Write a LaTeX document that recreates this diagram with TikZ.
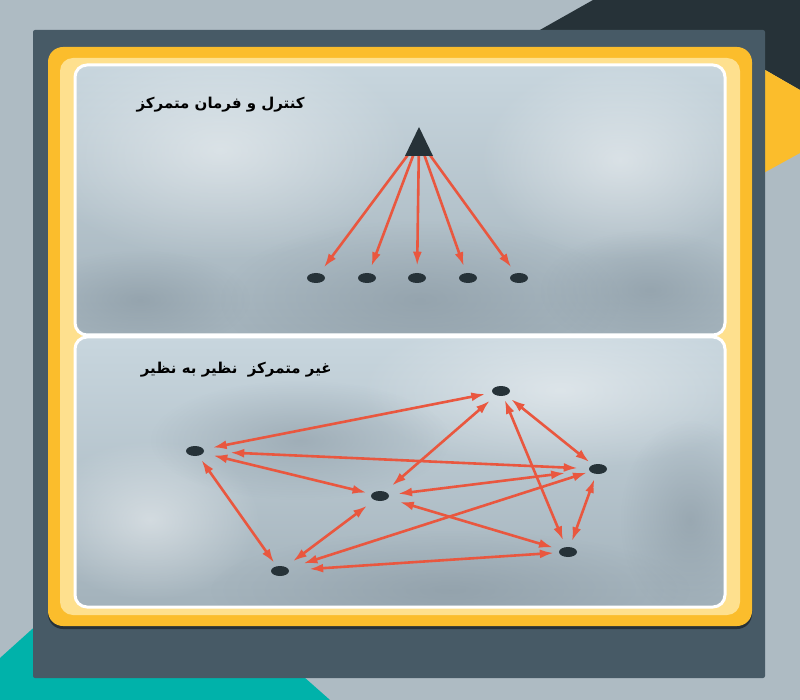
\documentclass[tikz,border=0pt]{standalone}
\usepackage{fontspec}
\newfontfamily\farsi[Script=Arabic]{DejaVu Sans}
\TeXXeTstate=1
\usepackage{tikz}
\usetikzlibrary{arrows.meta,shapes.geometric,fadings}
\tikzfading[name=softpuff,inner color=transparent!0,outer color=transparent!100]
\definecolor{bgray}{HTML}{AEBBC3}
\definecolor{slate}{HTML}{475A66}
\definecolor{ink}{HTML}{263238}
\definecolor{sea}{HTML}{00B2AA}
\definecolor{gold}{HTML}{FBBD2C}
\definecolor{cream}{HTML}{FEE08E}
\definecolor{arrowred}{HTML}{E9573F}
\definecolor{skyA}{HTML}{C8D6DE}
\definecolor{skyB}{HTML}{B8C7D0}
\definecolor{skyC}{HTML}{A3B2BB}
\definecolor{cloud}{HTML}{7F8E99}

\begin{document}
\begin{tikzpicture}[x=1pt,y=-1pt,>={Latex[length=14pt,width=9pt]},
                    line width=2.6pt]
  \tikzstyle{peer}=[ellipse,fill=ink,minimum width=18pt,minimum height=10pt,inner sep=0pt]
  \tikzstyle{link}=[<->,draw=arrowred]
  \tikzstyle{panel}=[draw=white,line width=3pt,rounded corners=12pt]
  \tikzstyle{puff}=[opacity=.45,path fading=softpuff]
  \tikzstyle{farsitext}=[font=\farsi\bfseries\fontsize{15}{18}\selectfont,text=black,anchor=east,inner sep=0pt]

  \useasboundingbox (0,0) rectangle (800,700);
  % background
  \fill[bgray] (0,0) rectangle (800,700);
  \fill[sea] (0,658) -- (140,532) -- (330,700) -- (0,700) -- cycle;
  \fill[ink] (593,0) -- (800,0) -- (800,90) -- (760,67) -- (430,92) -- cycle;
  \fill[gold] (760,67) -- (800,90) -- (800,153) -- (760,175) -- cycle;

  % frame
  \fill[slate,rounded corners=2pt] (33,30) rectangle (765,678);
  \fill[black!45!slate,rounded corners=15pt] (48,50) rectangle (752,629);
  \fill[gold,rounded corners=15pt] (48,47) rectangle (752,626);
  \fill[cream,rounded corners=13pt] (60,58) rectangle (740,615);
  \path[panel,top color=skyA,middle color=skyB,bottom color=skyC] (75,65) rectangle (725,335);
  \path[panel,top color=skyA,middle color=skyB,bottom color=skyC] (75,337) rectangle (725,607);

  % clouds
  \begin{scope}
    \clip[rounded corners=12pt] (77,67) rectangle (723,333);
    \fill[white,puff] (220,150) ellipse (190 and 110);
    \fill[white,puff] (620,160) ellipse (140 and 100);
    \fill[cloud,puff] (420,300) ellipse (200 and 80);
    \fill[cloud,puff] (650,290) ellipse (110 and 60);
    \fill[cloud,puff] (140,300) ellipse (110 and 50);
  \end{scope}
  \begin{scope}
    \clip[rounded corners=12pt] (77,339) rectangle (723,605);
    \fill[white,puff] (560,390) ellipse (200 and 80);
    \fill[white,puff] (150,520) ellipse (110 and 80);
    \fill[cloud,puff] (450,590) ellipse (240 and 60);
    \fill[cloud,puff] (300,440) ellipse (150 and 60);
    \fill[cloud,puff] (690,520) ellipse (70 and 100);
  \end{scope}

  % centralized
  \node[farsitext] (t1) at (306,105) {\beginR کنترل و فرمان متمرکز\endR};
  \coordinate (hub) at (419,140);
  \foreach \x [count=\i] in {316,367,417,468,519} {
    \node[peer] (c\i) at (\x,278) {};
    \draw[arrowred,->,shorten >=6pt] (hub) -- (c\i);
  }
  \fill[ink] (419,127) -- (433,156) -- (405,156) -- cycle;

  % peer to peer
  \node[farsitext] (t2) at (333,370) {\beginR غیر متمرکز\ \ نظیر به نظیر\endR};
  \node[peer] (A) at (195,451) {};
  \node[peer] (B) at (501,391) {};
  \node[peer] (C) at (598,469) {};
  \node[peer] (D) at (380,496) {};
  \node[peer] (E) at (568,552) {};
  \node[peer] (F) at (280,571) {};

  \foreach \a/\b/\s/\t in {A/B/8/6, A/C/25/10, A/D/9/4, A/F/4/3, F/D/8/8,
                          F/C/15/2, F/E/19/4, D/B/8/7, D/C/8/23, D/E/11/6,
                          B/C/5/3, B/E/3/6, C/E/4/5}
    \draw[link,shorten <=\s pt,shorten >=\t pt] (\a) -- (\b);
\end{tikzpicture}
\end{document}
